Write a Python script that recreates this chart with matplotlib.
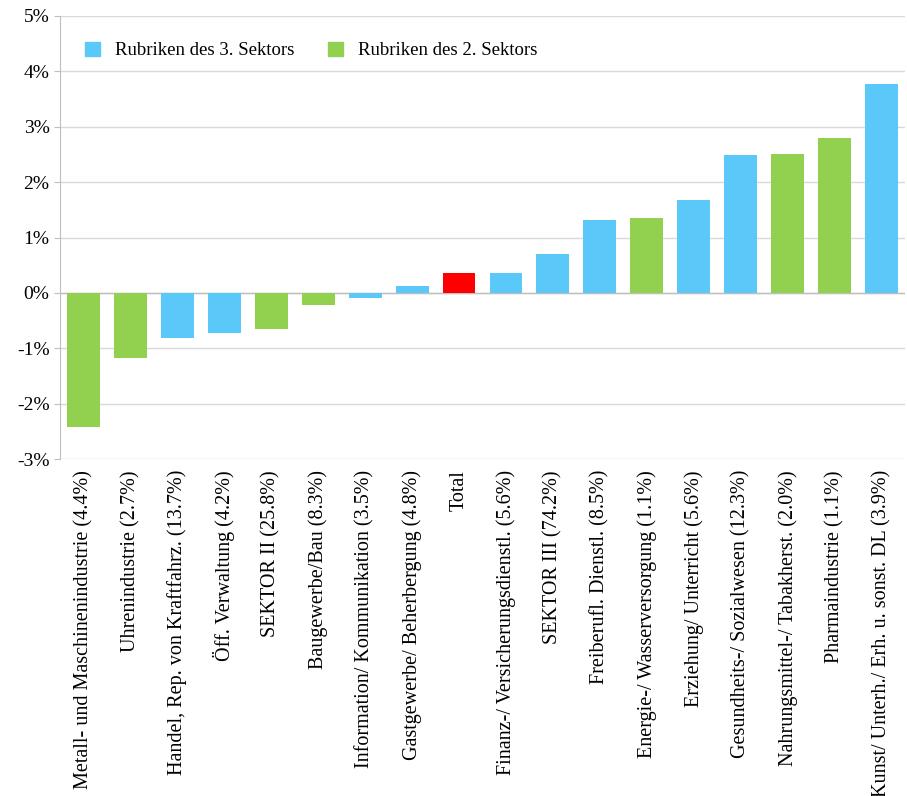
import matplotlib.pyplot as plt
from matplotlib.patches import Patch

plt.rcParams['font.family'] = ['Liberation Serif', 'DejaVu Serif']

labels = ['Metall- und Maschinenindustrie (4.4%)', 'Uhrenindustrie (2.7%)',
          'Handel, Rep. von Kraftfahrz. (13.7%)', 'Öff. Verwaltung (4.2%)',
          'SEKTOR II (25.8%)', 'Baugewerbe/Bau (8.3%)',
          'Information/ Kommunikation (3.5%)', 'Gastgewerbe/ Beherbergung (4.8%)',
          'Total', 'Finanz-/ Versicherungsdienstl. (5.6%)', 'SEKTOR III (74.2%)',
          'Freiberufl. Dienstl. (8.5%)', 'Energie-/ Wasserversorgung (1.1%)',
          'Erziehung/ Unterricht (5.6%)', 'Gesundheits-/ Sozialwesen (12.3%)',
          'Nahrungsmittel-/ Tabakherst. (2.0%)', 'Pharmaindustrie (1.1%)',
          'Kunst/ Unterh./ Erh. u. sonst. DL (3.9%)']
values = [-2.42, -1.17, -0.81, -0.72, -0.65, -0.22, -0.09, 0.13, 0.36, 0.36,
          0.70, 1.32, 1.35, 1.68, 2.49, 2.51, 2.80, 3.77]
sectors = [2, 2, 3, 3, 2, 2, 3, 3, 0, 3, 3, 3, 2, 3, 3, 2, 2, 3]

blue, green, red = '#5BC8FA', '#92D050', '#FF0000'
cmap = {2: green, 3: blue, 0: red}

fig = plt.figure(figsize=(9.07, 7.96), dpi=100)
ax = fig.add_axes([60 / 907, 1 - 459 / 796, 845 / 907, 443 / 796])
x = range(len(values))
ax.bar(x, values, width=0.7, color=[cmap[s] for s in sectors], zorder=3)
ax.set_xlim(-0.5, len(values) - 0.5)
ax.set_ylim(-3, 5)
ax.set_yticks(range(-3, 6))
ax.set_yticklabels([f'{v}%' for v in range(-3, 6)], fontsize=14)
ax.yaxis.grid(True, color='#d9d9d9', lw=1, zorder=0)
ax.axhline(0, color='#bfbfbf', lw=1, zorder=2)
for s in ['top', 'right', 'bottom']:
    ax.spines[s].set_visible(False)
ax.spines['left'].set_color('#bfbfbf')
ax.tick_params(axis='y', length=4, color='#bfbfbf')
ax.tick_params(axis='x', length=0, pad=8)
ax.set_xticks(list(x))
ax.set_xticklabels(labels, rotation=90, fontsize=14.5)
ax.legend(handles=[Patch(color=blue, label='Rubriken des 3. Sektors'),
                   Patch(color=green, label='Rubriken des 2. Sektors')],
          loc='upper left', ncol=2, frameon=False, fontsize=13.5,
          handlelength=0.8, handleheight=0.8, columnspacing=1.8,
          bbox_to_anchor=(0.01, 0.98))
fig.savefig('out.png', dpi=100)
